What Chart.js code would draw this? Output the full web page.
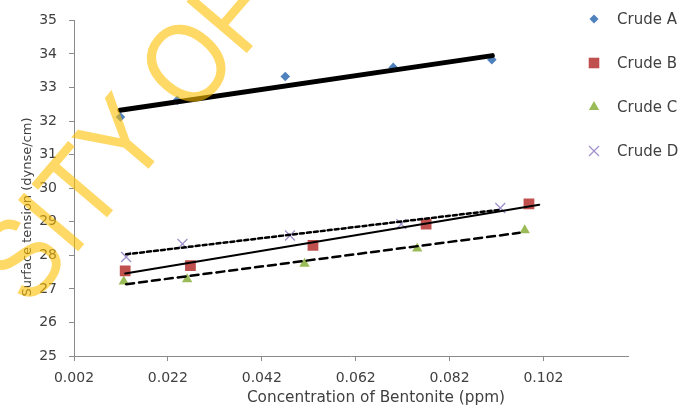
<!DOCTYPE html>
<html>
<head>
<meta charset="utf-8">
<script src="https://cdn.jsdelivr.net/npm/chart.js@4/dist/chart.umd.min.js"></script>
<style>
  body { margin: 0; background: #fff; }
  canvas { display: block; }
</style>
</head>
<body>
<canvas id="myChart" width="683" height="408"></canvas>
<script>
// measured points, x = concentration (ppm), y = surface tension (dynse/cm)
const crudeAx = [0.0119, 0.024, 0.047, 0.070, 0.091];
const crudeAy = [32.12, 32.62, 33.33, 33.60, 33.83];
const crudeBx = [0.0129, 0.0268, 0.0529, 0.077, 0.0989];
const crudeBy = [27.54, 27.69, 28.30, 28.93, 29.53];
const crudeCx = [0.0126, 0.0261, 0.0511, 0.0751, 0.098];
const crudeCy = [27.22, 27.29, 27.75, 28.20, 28.75];
const crudeDx = [0.0131, 0.0251, 0.048, 0.0717, 0.0928];
const crudeDy = [27.95, 28.34, 28.59, 28.93, 29.41];

// trend line end points
const trendAx = [0.0118, 0.0911];
const trendAy = [32.32, 33.95];
const trendBx = [0.0129, 0.1011];
const trendBy = [27.46, 29.51];
const trendCx = [0.0131, 0.0969];
const trendCy = [27.14, 28.67];
const trendDx = [0.0131, 0.0929];
const trendDy = [28.03, 29.36];

const seriesNames = ['Crude A', 'Crude B', 'Crude C', 'Crude D'];
const xTickValues = [0.002, 0.022, 0.042, 0.062, 0.082, 0.102];
const xTickLabels = ['0.002', '0.022', '0.042', '0.062', '0.082', '0.102'];

const FONT = "'DejaVu Sans', sans-serif";
const TXT = '#404040';

function pts(xs, ys) {
  return xs.map((x, i) => ({ x: x, y: ys[i] }));
}

function markerSet(label, xs, ys, color, style, radius) {
  return {
    type: 'scatter',
    label: label,
    data: pts(xs, ys),
    pointStyle: style,
    pointRadius: radius,
    pointHoverRadius: radius,
    backgroundColor: color,
    borderColor: color,
    borderWidth: style == 'crossRot' ? 1.3 : 0,
    order: 1
  };
}

function trendSet(xs, ys, width, dash) {
  return {
    type: 'line',
    label: 'trend',
    data: pts(xs, ys),
    borderColor: '#000',
    borderWidth: width,
    borderDash: dash,
    borderCapStyle: 'round',
    pointRadius: 0,
    fill: false,
    order: 0
  };
}

const legendItems = [
  { color: '#4F81BD', style: 'diamond' },
  { color: '#C0504D', style: 'square' },
  { color: '#9BBB59', style: 'triangle' },
  { color: '#9F8FCB', style: 'cross' }
];

function drawMarker(ctx, style, x, y) {
  ctx.beginPath();
  if (style == 'diamond') {
    ctx.moveTo(x - 4.5, y); ctx.lineTo(x, y - 4.5); ctx.lineTo(x + 4.5, y); ctx.lineTo(x, y + 4.5);
    ctx.closePath(); ctx.fill();
  } else if (style == 'square') {
    ctx.rect(x - 5.3, y - 5.3, 10.6, 10.6); ctx.fill();
  } else if (style == 'triangle') {
    ctx.moveTo(x, y - 6); ctx.lineTo(x + 5.2, y + 3); ctx.lineTo(x - 5.2, y + 3);
    ctx.closePath(); ctx.fill();
  } else {
    ctx.lineWidth = 1.2;
    ctx.moveTo(x - 5, y - 5); ctx.lineTo(x + 5, y + 5);
    ctx.moveTo(x + 5, y - 5); ctx.lineTo(x - 5, y + 5);
    ctx.stroke();
  }
}

const extras = {
  id: 'extras',
  afterDraw(chart) {
    const ctx = chart.ctx;
    ctx.save();
    // legend
    ctx.font = '15px ' + FONT;
    ctx.textBaseline = 'middle';
    ctx.textAlign = 'left';
    seriesNames.forEach((name, i) => {
      const y = 19 + i * 44;
      ctx.fillStyle = legendItems[i].color;
      ctx.strokeStyle = legendItems[i].color;
      drawMarker(ctx, legendItems[i].style, 594, y);
      ctx.fillStyle = TXT;
      ctx.fillText(name, 617, y + 1);
    });
    // axis titles
    ctx.fillStyle = TXT;
    ctx.textAlign = 'center';
    ctx.font = '15.3px ' + FONT;
    ctx.fillText('Concentration of Bentonite (ppm)', 376, 398);
    ctx.translate(27.5, 207);
    ctx.rotate(-Math.PI / 2);
    ctx.font = '13px ' + FONT;
    ctx.fillText('Surface tension (dynse/cm)', 0, 0);
    ctx.restore();

    // watermark
    ctx.save();
    ctx.translate(29, 309);
    ctx.rotate(-49.6 * Math.PI / 180);
    ctx.scale(0.87, 1);
    ctx.font = "115px 'Liberation Sans', sans-serif";
    ctx.fillStyle = 'rgba(255, 192, 0, 0.6)';
    ctx.textBaseline = 'alphabetic';
    ctx.textAlign = 'left';
    ctx.fillText('SITY OF', 0, 0);
    ctx.restore();
  }
};

var ctx = document.getElementById('myChart').getContext('2d');
var chart = new Chart(ctx, {
  type: 'scatter',
  data: {
    datasets: [
      markerSet(seriesNames[0], crudeAx, crudeAy, '#4F81BD', 'rectRot', 4.8),
      markerSet(seriesNames[1], crudeBx, crudeBy, '#C0504D', 'rect', 7.6),
      markerSet(seriesNames[2], crudeCx, crudeCy, '#9BBB59', 'triangle', 6),
      markerSet(seriesNames[3], crudeDx, crudeDy, '#9F8FCB', 'crossRot', 7),
      trendSet(trendAx, trendAy, 5, []),
      trendSet(trendBx, trendBy, 2, []),
      trendSet(trendCx, trendCy, 2.5, [8, 5]),
      trendSet(trendDx, trendDy, 2.5, [4, 3])
    ]
  },
  plugins: [extras],
  options: {
    responsive: false,
    animation: false,
    layout: { padding: { top: 17, right: 55, left: 0, bottom: 0 } },
    plugins: {
      legend: { display: false },
      tooltip: { enabled: false }
    },
    scales: {
      x: {
        type: 'linear',
        min: 0.002,
        max: 0.12,
        afterBuildTicks: (scale) => {
          scale.ticks = xTickValues.map((v) => ({ value: v }));
        },
        afterFit: (scale) => { scale.height = 52; },
        border: { color: '#8a8a8a', width: 1 },
        grid: { drawOnChartArea: false, color: '#8a8a8a', tickLength: 5 },
        ticks: {
          padding: 9,
          color: TXT,
          font: { family: FONT, size: 14 },
          maxRotation: 0,
          callback: (v, i) => xTickLabels[i]
        }
      },
      y: {
        min: 25,
        max: 35,
        afterFit: (scale) => { scale.width = 74; },
        border: { color: '#8a8a8a', width: 1 },
        grid: { drawOnChartArea: false, color: '#8a8a8a', tickLength: 5 },
        ticks: {
          stepSize: 1,
          padding: 12,
          color: TXT,
          font: { family: FONT, size: 14 }
        }
      }
    }
  }
});
</script>
</body>
</html>
